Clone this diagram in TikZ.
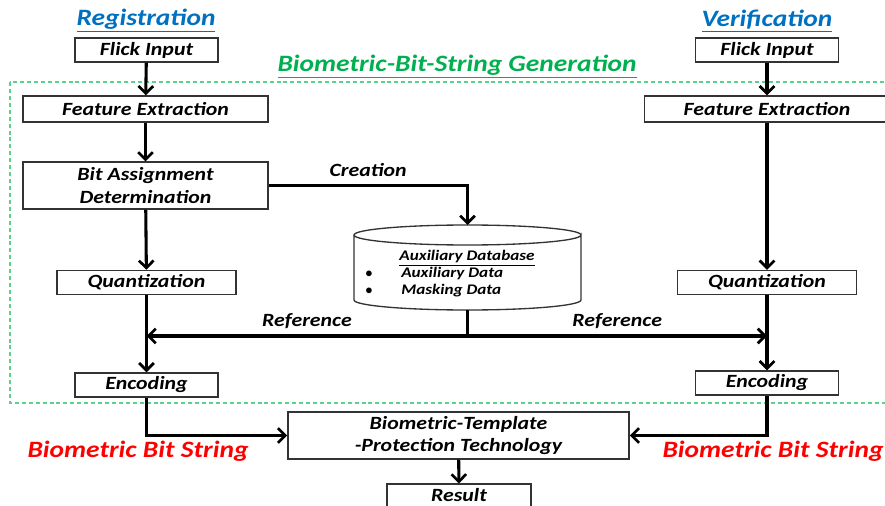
\documentclass[tikz,border=0pt]{standalone}
\usepackage{fontspec}
\setmainfont[FakeStretch=1.17]{Carlito}
\usetikzlibrary{arrows.meta}
\usetikzlibrary{positioning}
\definecolor{titleblue}{RGB}{0,112,192}
\definecolor{gengreen}{RGB}{0,176,80}
\definecolor{dashgreen}{RGB}{90,210,140}
\begin{document}
\begin{tikzpicture}[x=0.75pt,y=-0.75pt,
		box/.style={draw=black!80, line width=1.1pt, fill=white, inner sep=0pt, align=center,
			font=\fontsize{14}{17}\selectfont\bfseries\itshape},
		flow/.style={line width=2.3pt, -{Straight Barb[length=5.5pt,width=11pt,line width=2pt]}},
		plain/.style={line width=2.3pt},
		title/.style={font=\fontsize{17.6}{20}\selectfont\bfseries\itshape},
		lbl/.style={font=\fontsize{14}{17}\selectfont\bfseries\itshape},
		dbtext/.style={font=\fontsize{11}{13}\selectfont\bfseries\itshape, inner sep=0pt}]
	\useasboundingbox (0,0) rectangle (885,506);
	% generation frame
	\draw[dashgreen, line width=0.9pt, dash pattern=on 3pt off 2.2pt] (10,82) rectangle (892,403);
	% titles
	\node[title, titleblue] (regtitle) at (146,21) {\underline{Registration}};
	\node[title, titleblue] (vertitle) at (767,21) {\underline{Verification}};
	\node[title, gengreen] (gentitle) at (457,67) {\underline{Biometric-Bit-String Generation}};
	% registration side
	\node[box, minimum width=107pt, minimum height=18pt] (flickL) at (146.5,50) {Flick Input};
	\node[box, minimum width=184pt, minimum height=19.5pt] (featL) at (145.5,109) {Feature Extraction};
	\node[box, minimum width=184pt, minimum height=35pt] (bitL) at (145.5,185.5) {Bit Assignment\\Determination};
	\node[box, minimum width=134pt, minimum height=18pt] (quantL) at (146.5,282.5) {Quantization};
	\node[box, minimum width=107pt, minimum height=18pt] (encL) at (146.5,385) {Encoding};
	% verification side
	\node[box, minimum width=107pt, minimum height=18pt] (flickR) at (767,50) {Flick Input};
	\node[box, minimum width=184pt, minimum height=19.5pt] (featR) at (767,109) {Feature Extraction};
	\node[box, minimum width=134pt, minimum height=18pt] (quantR) at (767,282.5) {Quantization};
	\node[box, minimum width=107pt, minimum height=18pt] (encR) at (767,383) {Encoding};
	% protection and result
	\node[box, minimum width=256pt, minimum height=35pt] (btp) at (458.5,435.5) {Biometric-Template\\-Protection Technology};
	\node[box, minimum width=108pt, minimum height=17pt] (result) at (459,495.5) {Result};
	% auxiliary database
	\coordinate (dbtop) at (467.5,225);
	\coordinate (dbbot) at (467.5,310);
	\draw[black!80, line width=1pt, fill=white] (354,235) -- (354,300) arc[start angle=180, end angle=360, x radius=113.5, y radius=-10]
		-- (581,235) arc[start angle=0, end angle=360, x radius=113.5, y radius=10];
	\node[dbtext] (dbname) at (467,258) {\underline{Auxiliary Database}};
	\node[dbtext, anchor=west] (dbaux) at (401,274) {Auxiliary Data};
	\node[dbtext, anchor=west] (dbmask) at (401,291) {Masking Data};
	\node[dbtext] (bulaux) at (369,274) {$\bullet$};
	\node[dbtext] (bulmask) at (369,291) {$\bullet$};
	% junctions
	\coordinate (refmid) at (467.5,336);
	\coordinate (refL) at (146.5,336);
	\coordinate (refR) at (767,336);
	% arrows registration
	\draw[flow] (flickL) -- (featL);
	\draw[flow] (featL) -- (bitL);
	\draw[flow] (bitL) -- (quantL);
	\draw[flow] (quantL) -- (encL);
	\draw[flow] (bitL.east) -| (dbtop) node[pos=0.25, above=2pt, lbl] (creation) {Creation};
	% arrows verification
	\draw[flow] (flickR) -- (featR);
	\draw[flow] (featR) -- (quantR);
	\draw[flow] (quantR) -- (encR);
	% reference lines
	\draw[plain] (dbbot) -- (refmid);
	\draw[flow] (refmid) -- (refL) node[pos=0.5, above=1pt, lbl] (refLlbl) {Reference};
	\draw[flow] (refmid) -- (refR) node[pos=0.5, above=1pt, lbl] (refRlbl) {Reference};
	% bit strings
	\draw[flow] (encL.south) |- (btp.west);
	\draw[flow] (encR.south) |- (btp.east);
	\draw[flow] (btp) -- (result);
	\node[title, red] (bsL) at (138,451) {Biometric Bit String};
	\node[title, red] (bsR) at (773,451) {Biometric Bit String};
\end{tikzpicture}
\end{document}
